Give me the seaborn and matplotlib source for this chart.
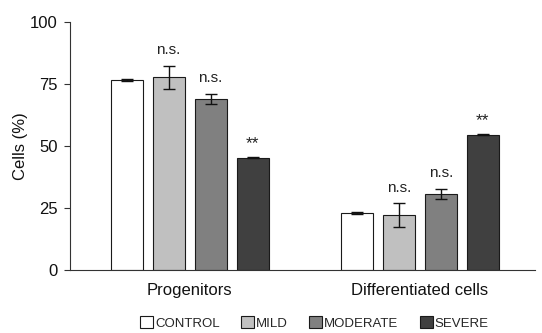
import matplotlib
matplotlib.use("Agg")
import matplotlib.pyplot as plt
import seaborn as sns
import pandas as pd
from matplotlib.patches import Patch

sns.set_style("white")
plt.rcParams["font.family"] = ["Liberation Sans", "DejaVu Sans"]

cell_types = ["Progenitors", "Differentiated cells"]
groups = ["CONTROL", "MILD", "MODERATE", "SEVERE"]
progenitors = [76.6, 77.7, 69.0, 45.3]
progenitors_err = [0.5, 4.7, 2.0, 0.3]
differentiated = [23.1, 22.2, 30.8, 54.6]
differentiated_err = [0.5, 4.7, 2.0, 0.3]
progenitors_sig = ["", "n.s.", "n.s.", "**"]
differentiated_sig = ["", "n.s.", "n.s.", "**"]
colors = ["#ffffff", "#c0c0c0", "#808080", "#404040"]

df = pd.DataFrame({
    "cell_type": [cell_types[0]] * 4 + [cell_types[1]] * 4,
    "group": groups * 2,
    "value": progenitors + differentiated,
    "err": progenitors_err + differentiated_err,
    "sig": progenitors_sig + differentiated_sig,
})

fig = plt.figure(figsize=(5.42, 3.33), dpi=100)
ax = fig.add_axes([0.129, 0.189, 0.858, 0.745])

sns.barplot(data=df, x="cell_type", y="value", hue="group", order=cell_types,
            hue_order=groups, palette=colors, width=0.73, gap=0.24,
            edgecolor="#1a1a1a", linewidth=0.8, legend=False, ax=ax)

# error bars and significance marks at each bar's centre
order = {g: i for i, g in enumerate(groups)}
rows = df.sort_values("group", key=lambda s: s.map(order), kind="stable")
for patch, (_, row) in zip(ax.patches, rows.iterrows()):
    xc = patch.get_x() + patch.get_width() / 2
    ax.errorbar(xc, row["value"], yerr=row["err"], fmt="none", ecolor="#111111",
                elinewidth=1.0, capsize=4.5, capthick=1.0)
    if row["sig"] == "**":
        ax.text(xc, row["value"] + row["err"] + 2.5, row["sig"], ha="center",
                va="bottom", fontsize=12.5, color="#222222")
    elif row["sig"]:
        ax.text(xc, row["value"] + row["err"] + 3.5, row["sig"], ha="center",
                va="bottom", fontsize=11, color="#222222")

ax.set_ylim(0, 100)
ax.set_xlim(-0.52, 1.5)
ax.set_yticks([0, 25, 50, 75, 100])
ax.set_xlabel("")
ax.set_ylabel("Cells (%)", fontsize=12, color="#111111", labelpad=1)
ax.tick_params(axis="y", left=True, direction="out", length=4, width=0.8,
               labelsize=12, colors="#333333", labelcolor="#111111", pad=5)
ax.tick_params(axis="x", bottom=False, labelsize=12, labelcolor="#111111", pad=6)
for side in ["top", "right"]:
    ax.spines[side].set_visible(False)
for side in ["left", "bottom"]:
    ax.spines[side].set_color("#333333")
    ax.spines[side].set_linewidth(0.8)

handles = [Patch(facecolor=c, edgecolor="#1a1a1a", linewidth=0.8) for c in colors]
fig.legend(handles, groups, loc="center", bbox_to_anchor=(0.58, 0.03), ncol=4,
           frameon=False, fontsize=9.5, handlelength=1.0, handleheight=1.0,
           handletextpad=0.15, columnspacing=1.6, borderaxespad=0)

fig.savefig("out.png", dpi=100)
